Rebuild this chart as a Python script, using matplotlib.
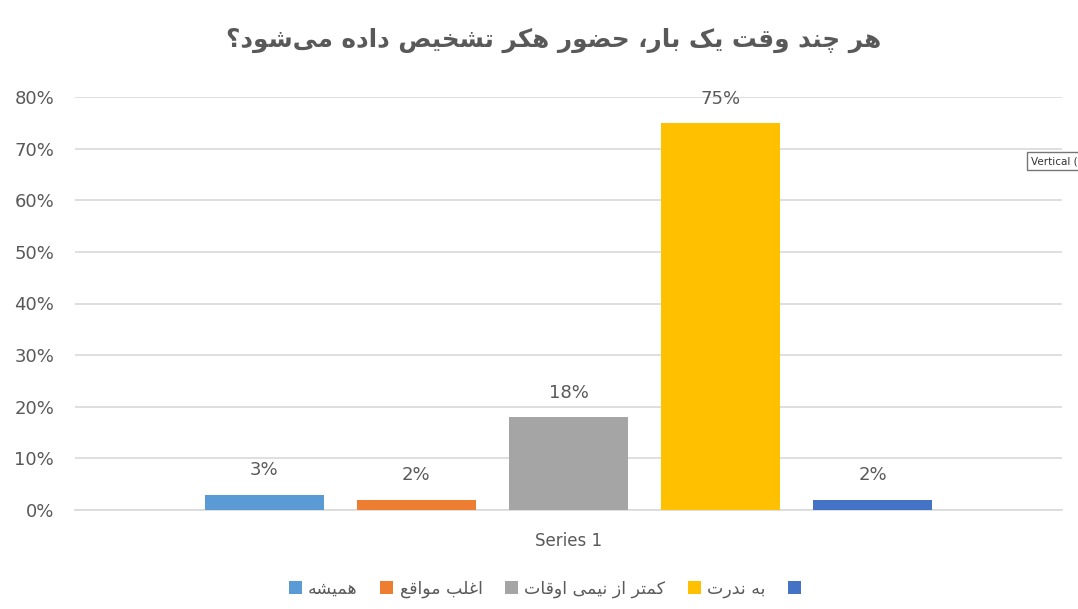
import matplotlib
matplotlib.use("Agg")
import matplotlib.pyplot as plt
from matplotlib.patches import Patch

# =========================
# Data
# =========================
TITLE = "هر چند وقت یک بار، حضور هکر تشخیص داده می\u200cشود؟"
CATEGORY = "Series 1"
LABELS = ["همیشه", "اغلب مواقع", "کمتر از نیمی اوقات", "به ندرت", ""]
VALUES = [3, 2, 18, 75, 2]
COLORS = ["#5B9BD5", "#ED7D31", "#A5A5A5", "#FFC000", "#4472C4"]
Y_TICKS = [0, 10, 20, 30, 40, 50, 60, 70, 80]

TEXT_COLOR = "#595959"
GRID_COLOR = "#D9D9D9"

# Arabic letter forms: isolated, final, initial, medial
FORMS = {
    "\u0627": ("\uFE8D", "\uFE8E", None, None),
    "\u0628": ("\uFE8F", "\uFE90", "\uFE91", "\uFE92"),
    "\u062A": ("\uFE95", "\uFE96", "\uFE97", "\uFE98"),
    "\u062D": ("\uFEA1", "\uFEA2", "\uFEA3", "\uFEA4"),
    "\u062E": ("\uFEA5", "\uFEA6", "\uFEA7", "\uFEA8"),
    "\u062F": ("\uFEA9", "\uFEAA", None, None),
    "\u0631": ("\uFEAD", "\uFEAE", None, None),
    "\u0632": ("\uFEAF", "\uFEB0", None, None),
    "\u0634": ("\uFEB5", "\uFEB6", "\uFEB7", "\uFEB8"),
    "\u0635": ("\uFEB9", "\uFEBA", "\uFEBB", "\uFEBC"),
    "\u0636": ("\uFEBD", "\uFEBE", "\uFEBF", "\uFEC0"),
    "\u0639": ("\uFEC9", "\uFECA", "\uFECB", "\uFECC"),
    "\u063A": ("\uFECD", "\uFECE", "\uFECF", "\uFED0"),
    "\u0642": ("\uFED5", "\uFED6", "\uFED7", "\uFED8"),
    "\u0644": ("\uFEDD", "\uFEDE", "\uFEDF", "\uFEE0"),
    "\u0645": ("\uFEE1", "\uFEE2", "\uFEE3", "\uFEE4"),
    "\u0646": ("\uFEE5", "\uFEE6", "\uFEE7", "\uFEE8"),
    "\u0647": ("\uFEE9", "\uFEEA", "\uFEEB", "\uFEEC"),
    "\u0648": ("\uFEED", "\uFEEE", None, None),
    "\u0686": ("\uFB7A", "\uFB7B", "\uFB7C", "\uFB7D"),
    "\u06A9": ("\uFB8E", "\uFB8F", "\uFB90", "\uFB91"),
    "\u06CC": ("\uFBFC", "\uFBFD", "\uFBFE", "\uFBFF"),
}


def shape(text):
    # pick joined letter forms, then flip to visual (right-to-left) order
    out = []
    for i, c in enumerate(text):
        if c not in FORMS:
            if c != "\u200c":
                out.append(c)
            continue
        iso, fin, ini, med = FORMS[c]
        prev = text[i - 1] if i > 0 else None
        nxt = text[i + 1] if i + 1 < len(text) else None
        join_prev = prev in FORMS and FORMS[prev][2] is not None
        join_next = ini is not None and nxt in FORMS
        if join_prev and join_next:
            out.append(med)
        elif join_prev:
            out.append(fin)
        elif join_next:
            out.append(ini)
        else:
            out.append(iso)
    return "".join(reversed(out))


plt.rcParams["font.family"] = ["DejaVu Sans"]

fig = plt.figure(figsize=(10.78, 6.09), dpi=100)
ax = fig.add_axes([75 / 1078, 1 - 510 / 609, (1062 - 75) / 1078, (510 - 97) / 609])

n = len(VALUES)
xs = [i - (n - 1) / 2 for i in range(n)]
bars = ax.bar(xs, VALUES, width=0.78, color=COLORS, zorder=3)

for x, v in zip(xs, VALUES):
    ax.annotate(f"{v}%", (x, v), xytext=(0, 11), textcoords="offset points",
                ha="center", va="bottom", fontsize=13, color=TEXT_COLOR)

ax.set_xlim(-3.245, 3.245)
ax.set_ylim(0, 80)
ax.set_yticks(Y_TICKS)
ax.set_yticklabels([f"{t}%" for t in Y_TICKS])
ax.set_xticks([0])
ax.set_xticklabels([CATEGORY])
ax.tick_params(axis="y", length=0, pad=15, labelsize=13, labelcolor=TEXT_COLOR)
ax.tick_params(axis="x", length=0, pad=16, labelsize=12, labelcolor=TEXT_COLOR)
ax.grid(axis="y", color=GRID_COLOR, linewidth=1.2, zorder=0)
for side in ["top", "right", "left"]:
    ax.spines[side].set_visible(False)
ax.spines["bottom"].set_color(GRID_COLOR)
ax.spines["bottom"].set_linewidth(1.2)

fig.text(554 / 1078, 1 - 40 / 609, shape(TITLE), ha="center", va="center",
         fontsize=17.7, fontweight="bold", color=TEXT_COLOR)

handles = [Patch(facecolor=c) for c in COLORS]
fig.legend(handles, [shape(l) for l in LABELS], loc="center",
           bbox_to_anchor=(548 / 1078, 1 - 589 / 609), ncol=n, frameon=False,
           fontsize=12.5, labelcolor=TEXT_COLOR, handlelength=0.75,
           handleheight=0.75, handletextpad=0.35, columnspacing=1.3)

# stray tooltip left in the screenshot
fig.text(1031 / 1078, 1 - 161 / 609, "Vertical (", ha="left", va="center",
         fontsize=7.5, color="#333333",
         bbox=dict(boxstyle="square,pad=0.35", facecolor="white", edgecolor="#767676"))

fig.savefig("out.png", dpi=100)
